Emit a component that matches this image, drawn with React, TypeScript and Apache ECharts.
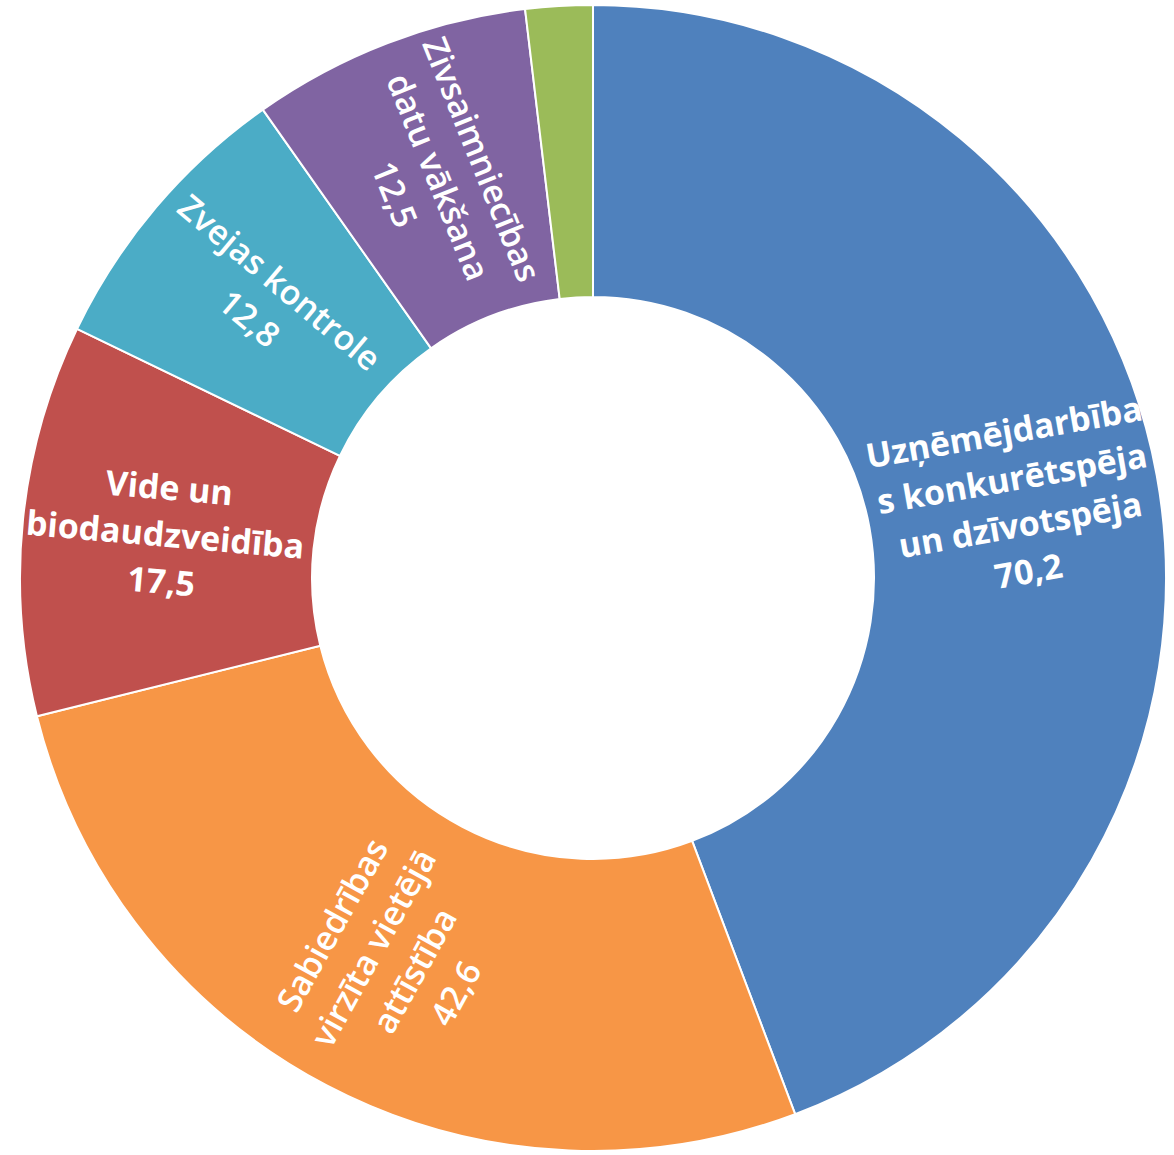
import React, { useEffect, useRef } from "react";
import * as echarts from "echarts";

const categories = [
  "Uzņēmējdarbība\ns konkurētspēja\nun dzīvotspēja",
  "Sabiedrības\nvirzīta vietējā\nattīstība",
  "Vide un\nbiodaudzveidība",
  "Zvejas kontrole",
  "Zivsaimniecības\ndatu vākšana",
  "Cits",
];
const values = [70.2, 42.6, 17.5, 12.8, 12.5, 3.0];
const colors = ["#4F81BD", "#F79646", "#C0504D", "#4BACC6", "#8064A2", "#9BBB59"];
const rotations = [10, 61, -5, -40, -68, 0];
const weights = ["bold", "600", "bold", "600", "600", "normal"];
const showLabels = [true, true, true, true, true, false];

export default function App() {
  const ref = useRef<HTMLDivElement>(null);
  useEffect(() => {
    document.body.style.margin = "0";
    const chart = echarts.init(ref.current!, null, { renderer: "svg" });
    chart.setOption({
      animation: false,
      series: [
        {
          type: "pie",
          center: [593, 578],
          radius: [281, 573],
          startAngle: 90,
          clockwise: true,
          avoidLabelOverlap: false,
          itemStyle: { borderColor: "#ffffff", borderWidth: 2 },
          labelLine: { show: false },
          emphasis: { disabled: true },
          data: values.map((v, i) => ({
            name: categories[i],
            value: v,
            itemStyle: { color: colors[i] },
            label: {
              show: showLabels[i],
              position: "inside",
              rotate: rotations[i],
              align: "center",
              formatter: (p: any) =>
                (p.name + "\n" + String(p.value).replace(".", ","))
                  .split("\n")
                  .map((s: string) => "{t|" + s + "}")
                  .join("\n"),
              rich: {
                t: {
                  color: "#ffffff",
                  fontFamily: "Open Sans",
                  fontWeight: weights[i],
                  fontSize: 34,
                  lineHeight: 47,
                  align: "center",
                },
              },
            },
          })),
        },
      ],
    });
    return () => chart.dispose();
  }, []);
  return <div ref={ref} style={{ width: 1174, height: 1155 }} />;
}
